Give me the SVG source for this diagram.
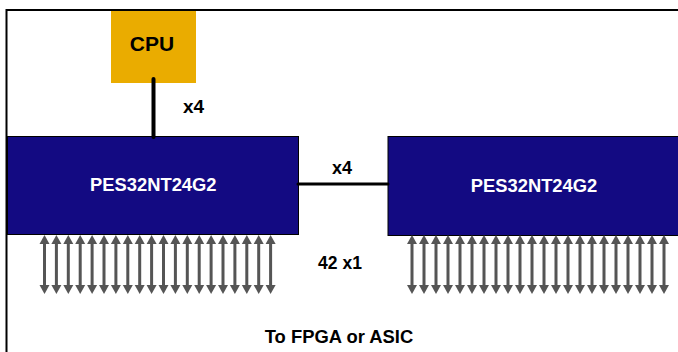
<svg xmlns="http://www.w3.org/2000/svg" xmlns:xlink="http://www.w3.org/1999/xlink" width="678" height="352" viewBox="0 0 678 352">
<style>
  .lbl { font-family: "Liberation Sans", Arial, sans-serif; font-weight: bold; fill: #000; }
  .chip { fill: #130A82; stroke: #000; stroke-width: 1; }
  .chiptxt { font-family: "Liberation Sans", Arial, sans-serif; font-weight: bold; fill: #fff; font-size: 18px; }
  .link { stroke: #000; stroke-linecap: round; fill: none; }
  .bi { fill: #555555; }
</style>
<defs>
  <g id="biarrow" class="bi">
    <polygon points="0,235 -5,244 5,244"/>
    <rect x="-1.5" y="243.5" width="3" height="42"/>
    <polygon points="-5,285 5,285 0,294"/>
  </g>
</defs>
<rect x="0" y="0" width="678" height="352" fill="#fff"/>
<!-- frame -->
<path d="M6.5,352 V10 H678" fill="none" stroke="#000" stroke-width="2"/>

<g id="cpu">
  <rect x="111" y="11" width="85" height="72" fill="#EAAC00"/>
  <text class="lbl" x="152" y="50.7" font-size="21" text-anchor="middle">CPU</text>
</g>

<g id="chip1">
  <rect class="chip" x="7.5" y="136.5" width="291" height="98"/>
  <text class="chiptxt" x="153.3" y="191" text-anchor="middle" textLength="126.5" lengthAdjust="spacingAndGlyphs">PES32NT24G2</text>
</g>

<g id="chip2">
  <rect class="chip" x="388" y="136.5" width="300" height="99"/>
  <text class="chiptxt" x="534" y="192" text-anchor="middle" textLength="126.5" lengthAdjust="spacingAndGlyphs">PES32NT24G2</text>
</g>

<g id="connectors">
  <line class="link" x1="153.5" y1="79" x2="153.5" y2="137" stroke-width="4"/>
  <line class="link" x1="298" y1="184" x2="388" y2="184" stroke-width="3" stroke-linecap="butt"/>
  <g id="arrows-left">
    <use xlink:href="#biarrow" href="#biarrow" x="44.5"/>
    <use xlink:href="#biarrow" href="#biarrow" x="56.4"/>
    <use xlink:href="#biarrow" href="#biarrow" x="68.3"/>
    <use xlink:href="#biarrow" href="#biarrow" x="80.2"/>
    <use xlink:href="#biarrow" href="#biarrow" x="92.1"/>
    <use xlink:href="#biarrow" href="#biarrow" x="104"/>
    <use xlink:href="#biarrow" href="#biarrow" x="115.9"/>
    <use xlink:href="#biarrow" href="#biarrow" x="127.8"/>
    <use xlink:href="#biarrow" href="#biarrow" x="139.7"/>
    <use xlink:href="#biarrow" href="#biarrow" x="151.6"/>
    <use xlink:href="#biarrow" href="#biarrow" x="163.5"/>
    <use xlink:href="#biarrow" href="#biarrow" x="175.4"/>
    <use xlink:href="#biarrow" href="#biarrow" x="187.3"/>
    <use xlink:href="#biarrow" href="#biarrow" x="199.2"/>
    <use xlink:href="#biarrow" href="#biarrow" x="211.1"/>
    <use xlink:href="#biarrow" href="#biarrow" x="223"/>
    <use xlink:href="#biarrow" href="#biarrow" x="234.9"/>
    <use xlink:href="#biarrow" href="#biarrow" x="246.8"/>
    <use xlink:href="#biarrow" href="#biarrow" x="258.7"/>
    <use xlink:href="#biarrow" href="#biarrow" x="270.6"/>
  </g>
  <g id="arrows-right">
    <use xlink:href="#biarrow" href="#biarrow" x="412"/>
    <use xlink:href="#biarrow" href="#biarrow" x="424"/>
    <use xlink:href="#biarrow" href="#biarrow" x="436"/>
    <use xlink:href="#biarrow" href="#biarrow" x="448"/>
    <use xlink:href="#biarrow" href="#biarrow" x="460"/>
    <use xlink:href="#biarrow" href="#biarrow" x="472"/>
    <use xlink:href="#biarrow" href="#biarrow" x="484"/>
    <use xlink:href="#biarrow" href="#biarrow" x="496"/>
    <use xlink:href="#biarrow" href="#biarrow" x="508"/>
    <use xlink:href="#biarrow" href="#biarrow" x="520"/>
    <use xlink:href="#biarrow" href="#biarrow" x="532"/>
    <use xlink:href="#biarrow" href="#biarrow" x="544"/>
    <use xlink:href="#biarrow" href="#biarrow" x="556"/>
    <use xlink:href="#biarrow" href="#biarrow" x="568"/>
    <use xlink:href="#biarrow" href="#biarrow" x="580"/>
    <use xlink:href="#biarrow" href="#biarrow" x="592"/>
    <use xlink:href="#biarrow" href="#biarrow" x="604"/>
    <use xlink:href="#biarrow" href="#biarrow" x="616"/>
    <use xlink:href="#biarrow" href="#biarrow" x="628"/>
    <use xlink:href="#biarrow" href="#biarrow" x="640"/>
    <use xlink:href="#biarrow" href="#biarrow" x="652"/>
    <use xlink:href="#biarrow" href="#biarrow" x="664"/>
  </g>
</g>

<g id="labels">
  <text class="lbl" x="193.5" y="112.7" font-size="19" text-anchor="middle">x4</text>
  <text class="lbl" x="342" y="174" font-size="18" text-anchor="middle">x4</text>
  <text class="lbl" x="340" y="269.3" font-size="17.5" text-anchor="middle">42 x1</text>
  <text class="lbl" x="339" y="343.3" font-size="18.4" text-anchor="middle">To FPGA or ASIC</text>
</g>
</svg>
